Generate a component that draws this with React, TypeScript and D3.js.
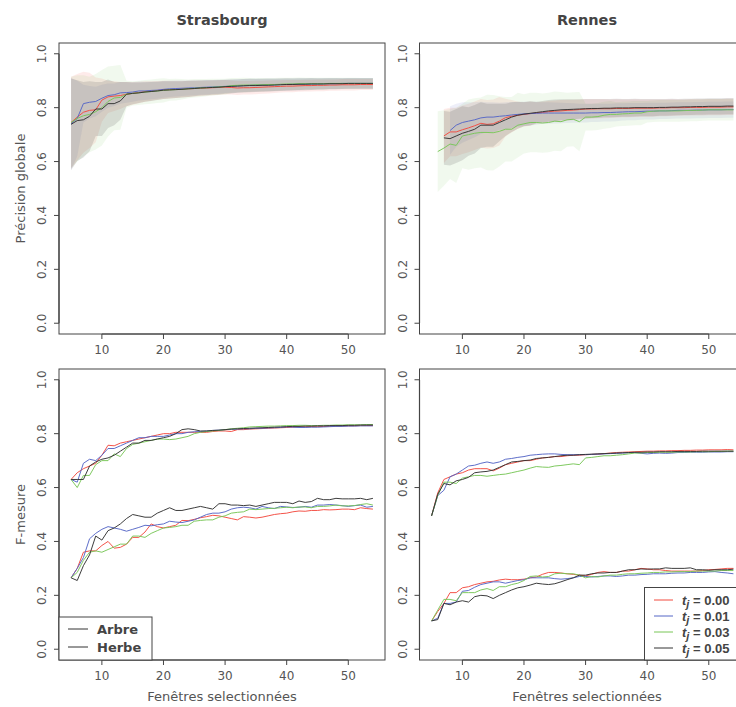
import React from "react";
import * as d3 from "d3";

// ---------- DATA ----------
const windows = [5, 6, 7, 8, 9, 10, 11, 12, 13, 14, 15, 16, 17, 18, 19, 20, 21, 22, 23, 24, 25, 26, 27, 28, 29, 30, 31, 32, 33, 34, 35, 36, 37, 38, 39, 40, 41, 42, 43, 44, 45, 46, 47, 48, 49, 50, 51, 52, 53, 54];

const thresholdLabels = ["0.00", "0.01", "0.03", "0.05"];
const classLabels = ["Arbre", "Herbe"];
const cityTitles = ["Strasbourg", "Rennes"];
const xTicks = [10, 20, 30, 40, 50];
const yTicks = [0, 0.2, 0.4, 0.6, 0.8, 1.0];

type V = number | null;

// Strasbourg - Précision globale (mean) per threshold
const sbgOA_000: V[] = [.745, .765, .783, .790, .792, .828, .840, .843, .845, .850, .853, .856, .860, .862, .864, .866, .867, .868, .869, .870, .871, .872, .873, .874, .875, .876, .875, .873, .874, .874, .875, .876, .877, .878, .879, .880, .880, .881, .882, .882, .883, .883, .884, .884, .885, .885, .885, .886, .886, .886];
const sbgOA_001: V[] = [.740, .760, .815, .820, .823, .835, .845, .848, .855, .856, .858, .862, .862, .864, .865, .868, .870, .871, .872, .873, .874, .875, .876, .877, .878, .879, .880, .881, .882, .883, .884, .884, .885, .885, .886, .886, .887, .887, .888, .888, .888, .889, .889, .889, .890, .890, .890, .890, .890, .890];
const sbgOA_003: V[] = [.745, .760, .770, .775, .785, .800, .823, .836, .838, .850, .853, .855, .858, .860, .862, .864, .866, .867, .868, .870, .872, .873, .874, .876, .877, .878, .882, .883, .884, .884, .885, .885, .886, .886, .887, .888, .888, .889, .889, .889, .889, .889, .890, .890, .890, .890, .890, .890, .890, .890];
const sbgOA_005: V[] = [.738, .752, .755, .768, .795, .795, .815, .815, .825, .850, .853, .855, .858, .860, .862, .865, .866, .867, .868, .870, .871, .873, .874, .875, .876, .878, .879, .880, .881, .882, .882, .883, .883, .884, .885, .886, .886, .887, .887, .888, .888, .888, .889, .889, .889, .890, .890, .890, .890, .890];

// Strasbourg - Précision globale (half-width of the band)
const sbgOAsd_000: V[] = [.17, .16, .15, .14, .12, .08, .06, .055, .05, .045, .042, .04, .038, .036, .035, .034, .033, .032, .031, .030, .030, .029, .028, .028, .027, .027, .026, .026, .025, .025, .025, .024, .024, .024, .023, .023, .023, .022, .022, .022, .022, .022, .021, .021, .021, .021, .021, .020, .020, .020];
const sbgOAsd_001: V[] = [.17, .14, .07, .06, .055, .05, .045, .042, .04, .038, .036, .035, .034, .033, .032, .031, .030, .030, .029, .028, .028, .027, .027, .026, .026, .025, .025, .025, .024, .024, .024, .023, .023, .023, .022, .022, .022, .022, .021, .021, .021, .021, .020, .020, .020, .020, .020, .020, .020, .020];
const sbgOAsd_003: V[] = [.17, .16, .15, .14, .14, .14, .13, .12, .12, .05, .045, .045, .045, .045, .045, .045, .04, .04, .038, .035, .034, .033, .032, .031, .030, .029, .028, .027, .027, .026, .025, .025, .024, .024, .024, .023, .023, .023, .022, .022, .022, .022, .021, .021, .021, .021, .021, .020, .020, .020];
const sbgOAsd_005: V[] = [.17, .15, .14, .13, .10, .10, .09, .08, .07, .045, .04, .038, .036, .035, .034, .033, .032, .031, .030, .030, .029, .028, .028, .027, .027, .026, .026, .025, .025, .025, .024, .024, .024, .023, .023, .023, .022, .022, .022, .022, .021, .021, .021, .021, .020, .020, .020, .020, .020, .020];

// Rennes - Précision globale (mean)
const renOA_000: V[] = [null, null, .695, .710, .710, .718, .725, .733, .742, .738, .740, .750, .763, .768, .772, .775, .778, .780, .782, .785, .787, .788, .790, .791, .793, .795, .795, .796, .796, .796, .797, .797, .797, .798, .798, .798, .798, .799, .799, .800, .800, .800, .801, .801, .801, .802, .802, .802, .803, .803];
const renOA_001: V[] = [null, null, null, .715, .735, .745, .750, .755, .762, .765, .765, .768, .770, .773, .775, .777, .778, .779, .780, .780, .780, .780, .780, .780, .780, .780, .781, .781, .782, .782, .783, .784, .785, .785, .786, .787, .787, .788, .788, .789, .790, .790, .790, .791, .791, .792, .792, .792, .793, .793];
const renOA_003: V[] = [null, .637, .650, .665, .660, .695, .700, .705, .708, .708, .707, .712, .720, .720, .735, .740, .745, .745, .743, .745, .750, .748, .755, .757, .748, .765, .765, .767, .772, .775, .775, .777, .778, .780, .780, .785, .787, .788, .788, .788, .788, .789, .790, .790, .791, .792, .792, .792, .792, .792];
const renOA_005: V[] = [null, null, .688, .685, .695, .705, .712, .720, .735, .735, .735, .745, .755, .765, .772, .776, .779, .782, .785, .788, .790, .792, .793, .794, .795, .796, .797, .797, .798, .798, .799, .799, .799, .800, .800, .800, .800, .801, .801, .802, .802, .803, .803, .804, .804, .805, .805, .805, .806, .806];

// Rennes - Précision globale (half-width of the band)
const renOAsd_000: V[] = [null, null, .10, .09, .09, .09, .09, .09, .09, .09, .09, .09, .07, .06, .05, .045, .045, .04, .04, .04, .04, .04, .039, .038, .037, .036, .036, .035, .035, .034, .034, .033, .033, .033, .032, .032, .032, .031, .031, .031, .030, .030, .030, .030, .030, .030, .030, .030, .030, .030];
const renOAsd_001: V[] = [null, null, null, .09, .08, .075, .07, .065, .06, .055, .055, .05, .05, .048, .046, .045, .044, .042, .04, .04, .039, .038, .037, .036, .035, .035, .034, .034, .033, .033, .033, .032, .032, .032, .031, .031, .031, .030, .030, .030, .030, .030, .030, .030, .030, .030, .030, .030, .030, .030];
const renOAsd_003: V[] = [null, .15, .14, .13, .14, .12, .13, .13, .13, .14, .14, .13, .12, .12, .12, .11, .11, .11, .11, .11, .11, .11, .10, .10, .11, .05, .05, .05, .05, .05, .045, .045, .045, .045, .045, .04, .04, .04, .04, .04, .04, .04, .04, .04, .04, .04, .04, .04, .04, .04];
const renOAsd_005: V[] = [null, null, .10, .10, .10, .10, .09, .09, .085, .08, .08, .07, .06, .055, .05, .045, .045, .04, .04, .04, .04, .039, .038, .037, .036, .036, .035, .035, .034, .034, .034, .033, .033, .033, .032, .032, .032, .031, .031, .031, .030, .030, .030, .030, .030, .030, .030, .030, .030, .030];

// Strasbourg - F-mesure, Arbre
const sbgFA_000: V[] = [.630, .655, .670, .680, .690, .720, .757, .755, .765, .770, .775, .780, .785, .790, .795, .800, .800, .805, .805, .805, .805, .805, .805, .808, .810, .810, .808, .815, .815, .817, .818, .819, .820, .821, .822, .823, .824, .825, .825, .826, .826, .827, .827, .828, .828, .829, .829, .830, .830, .830];
const sbgFA_001: V[] = [.630, .620, .690, .705, .700, .720, .745, .745, .755, .765, .775, .785, .785, .790, .790, .790, .795, .800, .800, .805, .807, .808, .810, .812, .813, .815, .816, .817, .818, .818, .820, .820, .821, .822, .823, .825, .824, .823, .823, .824, .824, .825, .826, .827, .827, .828, .828, .829, .829, .829];
const sbgFA_003: V[] = [.630, .600, .645, .645, .685, .700, .700, .725, .715, .745, .760, .765, .770, .775, .780, .780, .778, .780, .785, .790, .800, .805, .808, .810, .812, .815, .818, .820, .822, .825, .826, .827, .828, .828, .829, .830, .830, .831, .831, .830, .830, .831, .831, .832, .832, .833, .833, .833, .834, .834];
const sbgFA_005: V[] = [.630, .630, .630, .680, .695, .705, .710, .720, .735, .750, .765, .765, .775, .775, .780, .785, .790, .800, .815, .818, .815, .810, .810, .812, .813, .815, .817, .818, .819, .820, .821, .822, .823, .824, .825, .826, .827, .827, .828, .828, .829, .829, .830, .830, .830, .831, .831, .832, .832, .832];

// Strasbourg - F-mesure, Herbe
const sbgFH_000: V[] = [.265, .300, .360, .365, .365, .385, .400, .375, .378, .390, .415, .415, .435, .465, .455, .450, .455, .460, .478, .477, .482, .488, .492, .497, .495, .490, .485, .480, .492, .490, .487, .490, .495, .500, .503, .505, .510, .513, .512, .515, .515, .518, .517, .518, .520, .520, .518, .525, .522, .520];
const sbgFH_001: V[] = [.265, .300, .340, .410, .430, .445, .455, .450, .445, .438, .445, .452, .460, .458, .462, .465, .475, .472, .470, .475, .480, .490, .500, .505, .505, .510, .520, .525, .527, .525, .520, .530, .525, .522, .530, .528, .526, .527, .530, .527, .535, .535, .537, .535, .533, .530, .533, .535, .527, .530];
const sbgFH_003: V[] = [.265, .285, .330, .360, .365, .360, .370, .380, .390, .390, .420, .420, .415, .430, .440, .450, .452, .455, .460, .460, .475, .478, .480, .480, .490, .495, .505, .508, .510, .520, .518, .520, .522, .523, .525, .527, .525, .528, .528, .525, .530, .530, .532, .535, .532, .532, .533, .537, .540, .535];
const sbgFH_005: V[] = [.265, .255, .310, .350, .420, .405, .440, .450, .465, .485, .500, .495, .490, .490, .505, .515, .525, .515, .515, .520, .525, .530, .525, .520, .540, .540, .535, .535, .533, .535, .530, .535, .540, .545, .545, .545, .540, .550, .545, .548, .560, .555, .555, .560, .558, .558, .558, .560, .555, .560];

// Rennes - F-mesure, Arbre
const renFA_000: V[] = [.495, .580, .630, .640, .650, .655, .665, .670, .670, .670, .662, .672, .685, .690, .695, .700, .700, .705, .710, .712, .715, .715, .718, .720, .720, .722, .723, .724, .726, .728, .730, .731, .732, .733, .734, .735, .735, .736, .736, .737, .737, .738, .738, .739, .739, .740, .740, .740, .741, .740];
const renFA_001: V[] = [.495, .570, .590, .640, .650, .665, .680, .683, .690, .695, .690, .695, .705, .708, .712, .715, .720, .722, .724, .725, .725, .723, .722, .722, .722, .722, .723, .724, .725, .726, .727, .728, .729, .730, .727, .725, .727, .728, .727, .728, .730, .730, .731, .731, .731, .732, .732, .732, .733, .733];
const renFA_003: V[] = [.495, .570, .620, .620, .615, .635, .640, .645, .645, .642, .645, .648, .650, .655, .660, .665, .672, .678, .676, .675, .680, .682, .685, .688, .685, .710, .712, .715, .718, .718, .720, .722, .725, .728, .728, .730, .730, .731, .731, .731, .732, .732, .732, .733, .733, .733, .734, .734, .735, .735];
const renFA_005: V[] = [.495, .575, .615, .610, .625, .630, .638, .655, .658, .660, .665, .675, .685, .695, .697, .700, .702, .708, .710, .712, .715, .718, .720, .720, .722, .723, .724, .725, .726, .727, .728, .729, .730, .731, .731, .732, .732, .733, .733, .733, .734, .734, .734, .734, .735, .735, .735, .735, .735, .735];

// Rennes - F-mesure, Herbe
const renFH_000: V[] = [.105, .140, .170, .210, .210, .228, .232, .240, .245, .250, .252, .257, .260, .258, .258, .260, .265, .268, .278, .285, .285, .283, .280, .278, .275, .272, .278, .285, .288, .285, .285, .290, .290, .295, .300, .298, .295, .295, .292, .290, .290, .290, .290, .290, .292, .295, .296, .298, .300, .300];
const renFH_001: V[] = [.105, .115, .170, .170, .175, .215, .218, .230, .240, .245, .250, .250, .245, .250, .255, .258, .265, .265, .265, .265, .262, .260, .262, .265, .270, .270, .268, .270, .272, .272, .270, .272, .275, .275, .277, .278, .280, .280, .280, .282, .283, .283, .285, .285, .285, .287, .288, .285, .283, .280];
const renFH_003: V[] = [.105, .145, .185, .185, .180, .210, .210, .210, .220, .225, .218, .232, .232, .240, .245, .255, .270, .272, .268, .270, .280, .282, .280, .280, .275, .265, .270, .268, .272, .275, .275, .278, .280, .280, .282, .283, .285, .285, .287, .287, .288, .288, .288, .290, .290, .290, .290, .292, .292, .292];
const renFH_005: V[] = [.105, .110, .170, .165, .175, .180, .175, .195, .200, .198, .188, .200, .210, .220, .228, .232, .238, .245, .242, .240, .243, .250, .258, .265, .275, .275, .280, .283, .283, .285, .285, .290, .295, .295, .298, .297, .298, .298, .302, .300, .300, .300, .302, .295, .295, .293, .295, .295, .295, .297];

// ---------- STYLE ----------
const seriesColors = ["#f24a3f", "#5566c6", "#78c657", "#333333"];
const bandOpacity = [0.11, 0.1, 0.1, 0.14];
const FONT = "'DejaVu Sans', Verdana, sans-serif";
const GREY = "#555555";

type PanelDef = {
  left: number;
  top: number;
  means: V[][];
  spreads?: V[][];
};

const PW = 326;
const PH = 291;

function Panel({ left, top, means, spreads }: PanelDef) {
  const x = d3.scaleLinear().domain([3.04, 55.96]).range([left, left + PW]);
  const y = d3.scaleLinear().domain([-0.04, 1.04]).range([top + PH, top]);
  const idx = windows.map((_, i) => i);
  const bottom = top + PH;

  return (
    <g>
      {spreads &&
        means.map((m, s) => {
          const sd = spreads[s];
          const area = d3
            .area<number>()
            .defined((i) => m[i] != null && sd[i] != null)
            .x((i) => x(windows[i]))
            .y0((i) => y((m[i] as number) - (sd[i] as number)))
            .y1((i) => y((m[i] as number) + (sd[i] as number)));
          return (
            <path
              key={"b" + s}
              d={area(idx) || ""}
              fill={seriesColors[s % 4]}
              fillOpacity={bandOpacity[s % 4]}
              stroke="none"
            />
          );
        })}
      {means.map((m, s) => {
        const line = d3
          .line<number>()
          .defined((i) => m[i] != null)
          .x((i) => x(windows[i]))
          .y((i) => y(m[i] as number));
        return (
          <path
            key={"l" + s}
            d={line(idx) || ""}
            fill="none"
            stroke={seriesColors[s % 4]}
            strokeWidth={1}
            strokeOpacity={0.95}
          />
        );
      })}
      <rect x={left} y={top} width={PW} height={PH} fill="none" stroke="#444" strokeWidth={1} />
      {/* x axis */}
      <line x1={x(xTicks[0])} x2={x(xTicks[xTicks.length - 1])} y1={bottom} y2={bottom} stroke="#444" strokeWidth={1.2} />
      {xTicks.map((t) => (
        <g key={"xt" + t}>
          <line x1={x(t)} x2={x(t)} y1={bottom} y2={bottom + 5} stroke="#444" />
          <text x={x(t)} y={bottom + 20} textAnchor="middle" fontSize={12} fill={GREY} fontFamily={FONT}>
            {t}
          </text>
        </g>
      ))}
      {/* y axis */}
      <line x1={left} x2={left} y1={y(0)} y2={y(1)} stroke="#444" strokeWidth={1.2} />
      {yTicks.map((t) => (
        <g key={"yt" + t}>
          <line x1={left - 5} x2={left} y1={y(t)} y2={y(t)} stroke="#444" />
          <text
            transform={`translate(${left - 13},${y(t)}) rotate(-90)`}
            textAnchor="middle"
            fontSize={12}
            fill={GREY}
            fontFamily={FONT}
          >
            {t.toFixed(1)}
          </text>
        </g>
      ))}
    </g>
  );
}

export default function App() {
  const L1 = 59;
  const L2 = 419.5;
  const T1 = 43;
  const T2 = 369;

  const bottomRightLegendY = [600, 616, 632, 648];
  const bottomLeftLegendY = [629, 647];

  return (
    <svg
      width={736}
      height={707}
      style={{ position: "absolute", left: 0, top: 0 }}
      fontFamily={FONT}
    >
      <rect x={0} y={0} width={736} height={707} fill="#ffffff" />

      <Panel
        left={L1}
        top={T1}
        means={[sbgOA_000, sbgOA_001, sbgOA_003, sbgOA_005]}
        spreads={[sbgOAsd_000, sbgOAsd_001, sbgOAsd_003, sbgOAsd_005]}
      />
      <Panel
        left={L2}
        top={T1}
        means={[renOA_000, renOA_001, renOA_003, renOA_005]}
        spreads={[renOAsd_000, renOAsd_001, renOAsd_003, renOAsd_005]}
      />
      <Panel
        left={L1}
        top={T2}
        means={[sbgFA_000, sbgFA_001, sbgFA_003, sbgFA_005, sbgFH_000, sbgFH_001, sbgFH_003, sbgFH_005]}
      />
      <Panel
        left={L2}
        top={T2}
        means={[renFA_000, renFA_001, renFA_003, renFA_005, renFH_000, renFH_001, renFH_003, renFH_005]}
      />

      {/* titles */}
      <text x={222} y={25} textAnchor="middle" fontSize={14.5} fontWeight="bold" fill="#444">
        {cityTitles[0]}
      </text>
      <text x={587} y={25} textAnchor="middle" fontSize={14.5} fontWeight="bold" fill="#444">
        {cityTitles[1]}
      </text>

      {/* axis titles */}
      <text transform="translate(25,188.5) rotate(-90)" textAnchor="middle" fontSize={13} fill={GREY}>
        Précision globale
      </text>
      <text transform="translate(25,514.5) rotate(-90)" textAnchor="middle" fontSize={13} fill={GREY}>
        F-mesure
      </text>
      <text x={222} y={701} textAnchor="middle" fontSize={13} fill={GREY}>
        Fenêtres selectionnées
      </text>
      <text x={587} y={701} textAnchor="middle" fontSize={13} fill={GREY}>
        Fenêtres selectionnées
      </text>

      {/* legend: classes */}
      <rect x={59} y={617} width={93} height={43} fill="#fff" stroke="#444" strokeWidth={1} />
      {classLabels.map((c, i) => (
        <g key={c}>
          <line x1={68} x2={88} y1={bottomLeftLegendY[i]} y2={bottomLeftLegendY[i]} stroke="#333" />
          <text x={97} y={bottomLeftLegendY[i] + 4.5} fontSize={13} fontWeight="bold" fill="#444">
            {c}
          </text>
        </g>
      ))}

      {/* legend: thresholds */}
      <rect x={644.5} y={587.5} width={130} height={72.5} fill="#fff" stroke="#444" strokeWidth={1} />
      {thresholdLabels.map((t, i) => (
        <g key={t}>
          <line x1={654} x2={673} y1={bottomRightLegendY[i]} y2={bottomRightLegendY[i]} stroke={seriesColors[i]} />
          <text
            x={682}
            y={bottomRightLegendY[i] + 4.5}
            fontSize={13}
            fontWeight="bold"
            fill="#444"
            fontFamily="'Liberation Sans', Arial, sans-serif"
          >
            <tspan fontStyle="italic">t</tspan>
            <tspan fontStyle="italic" fontSize={11} dy={3}>
              j
            </tspan>
            <tspan dy={-3}>{" = " + t}</tspan>
          </text>
        </g>
      ))}
    </svg>
  );
}
